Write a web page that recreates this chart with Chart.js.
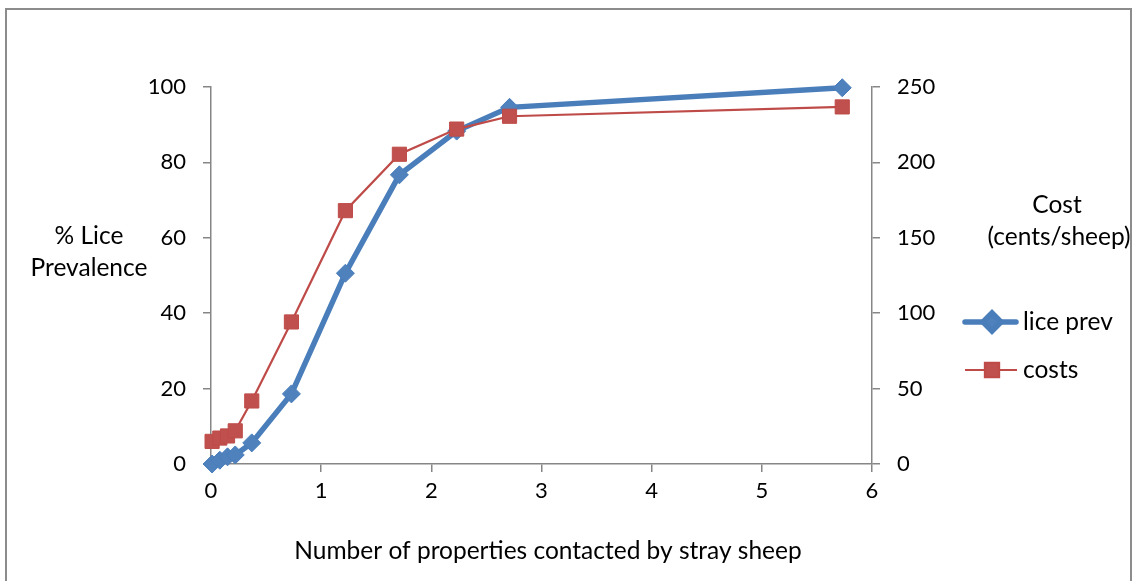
<!DOCTYPE html>
<html>
<head>
<meta charset="utf-8">
<script src="https://cdn.jsdelivr.net/npm/chart.js@4.4.1/dist/chart.umd.min.js"></script>
<style>
  html, body { margin: 0; padding: 0; background: #fff; overflow: hidden; }
  #wrap { position: relative; width: 1134px; height: 581px; }
  #frame { position: absolute; left: 5px; top: 8px; width: 1127px; height: 600px;
           border: 2px solid #8c8c8c; box-sizing: border-box; }
  canvas { position: absolute; left: 0; top: 0; }
</style>
</head>
<body>
<div id="wrap">
  <div id="frame"></div>
  <canvas id="chart" width="1134" height="581"></canvas>
</div>
<script>
// Number of properties contacted by stray sheep
const contacts = [0.01, 0.08, 0.15, 0.22, 0.37, 0.73, 1.22, 1.71, 2.23, 2.71, 5.73];
// % lice prevalence (left axis)
const licePrev = [0, 1.0, 1.9, 2.4, 5.6, 18.6, 50.6, 76.7, 88.3, 94.6, 99.8];
// Cost in cents per sheep (right axis)
const costs = [15.0, 17.2, 18.6, 22.0, 41.8, 94.2, 168.0, 205.4, 222.1, 230.6, 236.8];

const xTickValues = [0, 1, 2, 3, 4, 5, 6];
const yTickValues = [0, 20, 40, 60, 80, 100];
const y2TickValues = [0, 50, 100, 150, 200, 250];

const FONT = 'Lato';
const AXIS_GREY = '#868686';
const BLUE = '#4A7EBB', BLUE_FILL = '#4F81BD';
const RED = '#BE4B48', RED_FILL = '#C0504D';

const toPoints = (ys) => contacts.map((x, i) => ({ x, y: ys[i] }));
const fixedTicks = (vals) => (scale) => { scale.ticks = vals.map(v => ({ value: v })); };

const tickFont = { family: FONT, size: 22 };

// Axis titles and legend, drawn as canvas text around the plot
const decorations = {
  id: 'decorations',
  afterDraw(chart) {
    const ctx = chart.ctx;
    ctx.save();
    ctx.fillStyle = '#000';
    ctx.font = `24.5px ${FONT}`;
    ctx.textAlign = 'center';
    ctx.textBaseline = 'middle';
    ctx.fillText('% Lice', 89, 236);
    ctx.fillText('Prevalence', 89, 268);
    ctx.fillText('Cost', 1057, 205);
    ctx.fillText('(cents/sheep)', 1059, 237);
    ctx.fillText('Number of properties contacted by stray sheep', 548, 551);

    // legend: lice prev
    ctx.lineCap = 'round';
    ctx.strokeStyle = BLUE; ctx.lineWidth = 5.5;
    ctx.beginPath(); ctx.moveTo(965, 322); ctx.lineTo(1016, 322); ctx.stroke();
    ctx.fillStyle = BLUE_FILL; ctx.strokeStyle = BLUE;
    Chart.helpers.drawPoint(ctx, { pointStyle: 'rectRot', radius: 9, borderWidth: 1 }, 992, 322);
    // legend: costs
    ctx.lineCap = 'butt';
    ctx.strokeStyle = RED; ctx.lineWidth = 2.2;
    ctx.beginPath(); ctx.moveTo(965, 370); ctx.lineTo(1017, 370); ctx.stroke();
    ctx.fillStyle = RED_FILL; ctx.strokeStyle = RED;
    Chart.helpers.drawPoint(ctx, { pointStyle: 'rect', radius: 10, borderWidth: 1 }, 992, 370);

    ctx.fillStyle = '#000';
    ctx.textAlign = 'left';
    ctx.fillText('lice prev', 1023, 322);
    ctx.fillText('costs', 1023, 370);
    ctx.restore();
  }
};

new Chart(document.getElementById('chart'), {
  type: 'scatter',
  data: {
    datasets: [
      {
        label: 'costs',
        data: toPoints(costs),
        yAxisID: 'y2',
        showLine: true,
        borderColor: RED,
        backgroundColor: RED_FILL,
        borderWidth: 2.2,
        pointStyle: 'rect',
        pointRadius: 10,
        pointBorderWidth: 1,
        pointBorderColor: RED,
        clip: false,
        order: 0
      },
      {
        label: 'lice prev',
        data: toPoints(licePrev),
        yAxisID: 'y',
        showLine: true,
        borderColor: BLUE,
        backgroundColor: BLUE_FILL,
        borderWidth: 5.5,
        pointStyle: 'rectRot',
        pointRadius: 9,
        pointBorderWidth: 1,
        pointBorderColor: BLUE,
        clip: false,
        order: 1
      }
    ]
  },
  options: {
    responsive: false,
    animation: false,
    events: [],
    layout: { padding: { top: 87, left: 0, right: 0, bottom: 0 } },
    plugins: { legend: { display: false }, tooltip: { enabled: false } },
    scales: {
      x: {
        type: 'linear', position: 'bottom', min: 0, max: 6,
        afterBuildTicks: fixedTicks(xTickValues),
        afterFit(s) { s.height = 117; },
        ticks: { font: tickFont, color: '#000', padding: 6 },
        grid: { drawOnChartArea: false, drawTicks: true, tickLength: 8, color: AXIS_GREY, lineWidth: 1.5 },
        border: { color: AXIS_GREY, width: 1.5 }
      },
      y: {
        type: 'linear', position: 'left', min: 0, max: 100,
        afterBuildTicks: fixedTicks(yTickValues),
        afterFit(s) { s.width = 211; },
        ticks: { font: tickFont, color: '#000', padding: 17 },
        grid: { drawOnChartArea: false, drawTicks: true, tickLength: 8, color: AXIS_GREY, lineWidth: 1.5 },
        border: { color: AXIS_GREY, width: 1.5 }
      },
      y2: {
        type: 'linear', position: 'right', min: 0, max: 250,
        afterBuildTicks: fixedTicks(y2TickValues),
        afterFit(s) { s.width = 262; },
        ticks: { font: tickFont, color: '#000', padding: 17 },
        grid: { drawOnChartArea: false, drawTicks: true, tickLength: 8, color: AXIS_GREY, lineWidth: 1.5 },
        border: { color: AXIS_GREY, width: 1.5 }
      }
    }
  },
  plugins: [decorations]
});
</script>
</body>
</html>
